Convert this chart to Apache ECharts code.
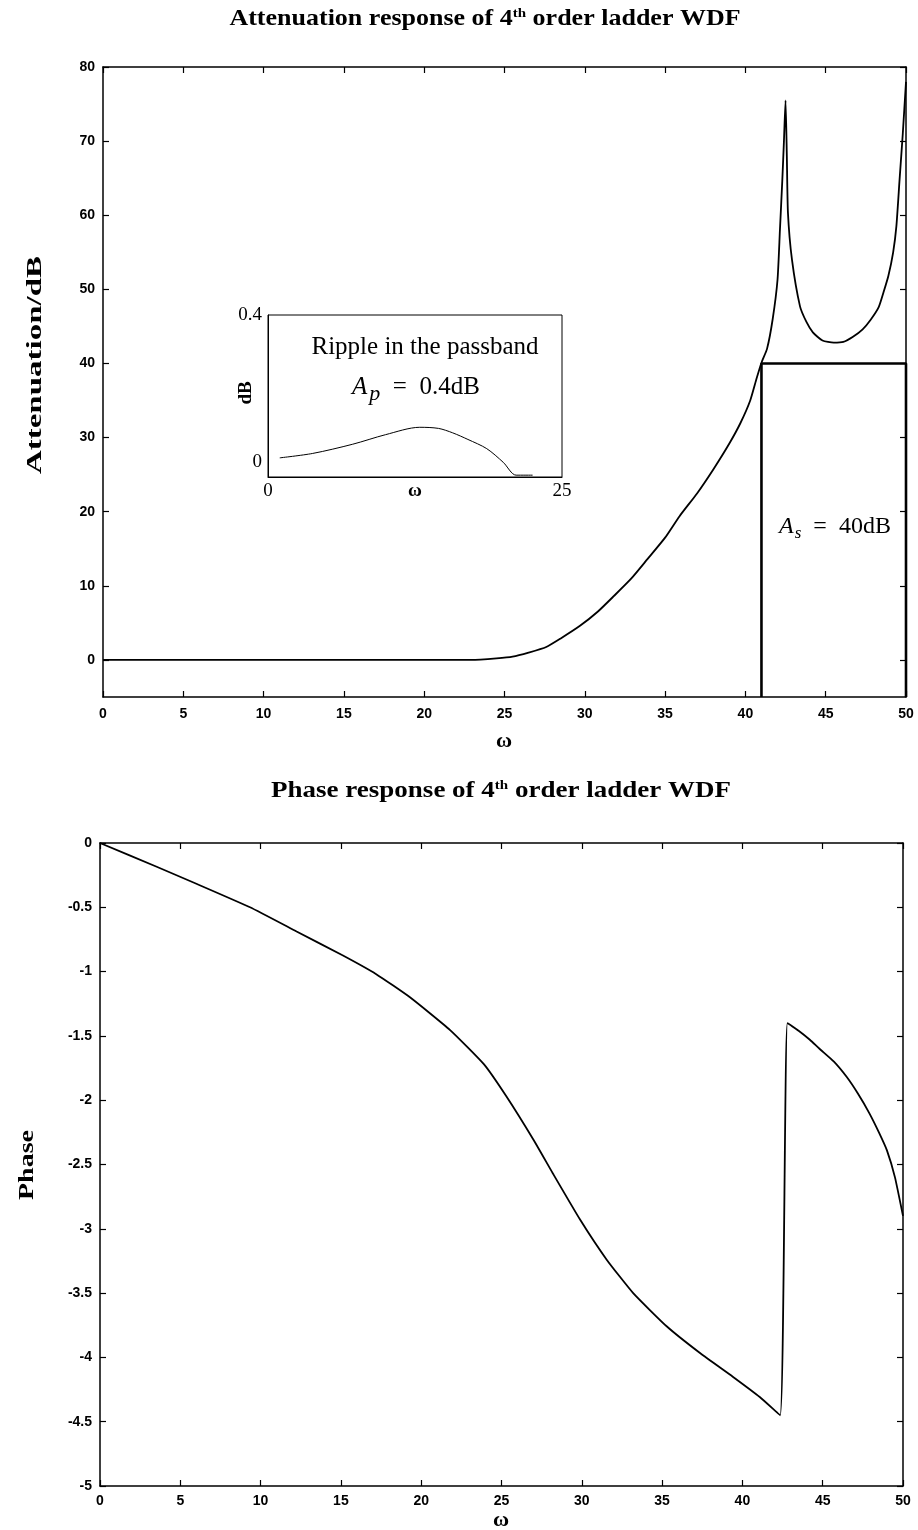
<!DOCTYPE html>
<html><head><meta charset="utf-8">
<script src="https://cdn.jsdelivr.net/npm/echarts@6/dist/echarts.min.js"></script>
<style>html,body{margin:0;padding:0;background:#fff}#c{width:918px;height:1530px}</style>
</head><body><div id="c"></div>
<script>
// ---- data ----
const xTicks = [0,5,10,15,20,25,30,35,40,45,50];
const attYTicks = [0,10,20,30,40,50,60,70,80];
const attOmega = [0,5,10,15,20,22,23.5,24.5,25.5,26.5,27.6,28.5,29.7,30.8,31.8,32.9,33.9,35,35.9,37,38,39,39.7,40.3,40.7,41,41.35,41.7,42,42.15,42.3,42.4,42.5,42.58,42.65,42.9,43.4,43.8,44.2,44.8,45.5,46.1,46.7,47.3,47.8,48.3,48.6,48.9,49.2,49.4,49.6,49.8,50];
const attValues = [0,0,0,0,0,0,0.05,0.2,0.45,1.0,1.75,2.9,4.6,6.5,8.6,11,13.6,16.5,19.4,22.5,25.7,29.2,32,35,38,40.1,42,46,51.3,58,64.8,70,75.5,68,60.3,54,47.7,45.6,44.2,43.1,42.8,42.9,43.6,44.6,45.9,47.6,49.6,51.8,55,58.5,64.8,71,78];
const stopbandEdge = 41;
const stopbandAtten = 40;
const phaseOmega = [0,3.53,6,9.34,12.24,15.1,17.2,19.3,21.8,23.9,25.3,27,28.2,29.9,31.55,33.2,35.3,37.4,39.4,41.1,42.35,42.8,43.5,44.2,44.8,45.7,46.5,47.2,47.9,48.5,49,49.5,50];
const phaseValues = [0,-0.185,-0.317,-0.5,-0.688,-0.873,-1.02,-1.2,-1.455,-1.72,-1.97,-2.31,-2.57,-2.93,-3.24,-3.5,-3.76,-3.97,-4.15,-4.31,-4.45,-1.40,-1.46,-1.53,-1.6,-1.7,-1.82,-1.95,-2.1,-2.25,-2.39,-2.6,-2.9];
const rippleOmega = [1,3.8,7.2,10,12.9,14.5,15.7,17,18.6,20,21.1,22.5];
const rippleValues = [0.012,0.024,0.049,0.075,0.095,0.092,0.08,0.062,0.037,0,-0.035,-0.035];
const rippleXTicks = [0,12.5,25];
const rippleYTicks = [0,0.4];

const zip = (a,b)=>a.map((v,i)=>[v,b[i]]);
const BLK = '#000';
const tickFont = {color:BLK, fontFamily:'Liberation Sans', fontWeight:'bold', fontSize:14};
function mainX(grid, pos, labels, margin){
  return {gridIndex:grid, type:'value', position:pos, min:0, max:50, interval:5,
    axisLine:{show:true, onZero:false, lineStyle:{color:BLK,width:1.5}},
    axisTick:{show:true, inside:true, length:6, lineStyle:{color:BLK,width:1.2}},
    axisLabel:Object.assign({show:labels, margin:margin}, tickFont),
    splitLine:{show:false}};
}
function yAx(grid, pos, labels, extra){
  return Object.assign({gridIndex:grid, type:'value', position:pos,
    axisLine:{show:true, onZero:false, lineStyle:{color:BLK,width:1.5}},
    axisTick:{show:true, inside:true, length:6, lineStyle:{color:BLK,width:1.2}},
    axisLabel:Object.assign({show:labels, margin:8}, tickFont),
    splitLine:{show:false}}, extra);
}
const attY = {min:-5, max:80};
const attTickOpts = (labels)=>({axisTick:{show:true,inside:true,length:6,customValues:attYTicks,lineStyle:{color:BLK,width:1.2}},
  axisLabel:Object.assign({show:labels, margin:8, customValues:attYTicks}, tickFont)});

const SERIF = '"Liberation Serif"';
const option = {
  animation:false,
  backgroundColor:'#fff',
  grid:[
    {left:103, top:67, width:803, height:630},
    {left:100, top:843, width:803, height:643},
    {left:268, top:315, width:294, height:162, show:true, borderColor:BLK, borderWidth:1, backgroundColor:'#fff', z:5}
  ],
  xAxis:[
    mainX(0,'bottom',true,10),
    mainX(0,'top',false,8),
    mainX(1,'bottom',true,8),
    mainX(1,'top',false,8),
    {gridIndex:2, type:'value', min:0, max:25, position:'bottom', z:6,
      axisLine:{show:true,onZero:false,lineStyle:{color:BLK,width:1}},
      axisTick:{show:false},
      splitLine:{show:false},
      axisLabel:{show:true, customValues:rippleXTicks, margin:5, color:BLK, fontFamily:'Liberation Serif', fontSize:19,
        formatter:v=>Math.abs(v-12.5)<1e-6?'{b|ω}':String(v), rich:{b:{fontFamily:'Liberation Serif', fontWeight:'bold', fontSize:19, color:BLK}}}}
  ],
  yAxis:[
    Object.assign(yAx(0,'left',true,attY), attTickOpts(true)),
    Object.assign(yAx(0,'right',false,attY), attTickOpts(false)),
    yAx(1,'left',true,{min:-5,max:0,interval:0.5}),
    yAx(1,'right',false,{min:-5,max:0,interval:0.5}),
    {gridIndex:2, type:'value', min:-0.04, max:0.4, position:'left', z:6,
      axisLine:{show:true,onZero:false,lineStyle:{color:BLK,width:1}},
      axisTick:{show:false},
      splitLine:{show:false},
      axisLabel:{show:true, customValues:rippleYTicks, margin:6, color:BLK, fontFamily:'Liberation Serif', fontSize:19}}
  ],
  series:[
    {type:'line', xAxisIndex:0, yAxisIndex:0, data:zip(attOmega,attValues), showSymbol:false, smooth:0.2,
      lineStyle:{color:BLK,width:1.8}, clip:true, z:3},
    {type:'line', xAxisIndex:0, yAxisIndex:0, showSymbol:false,
      data:[[stopbandEdge,-5],[stopbandEdge,stopbandAtten],[50,stopbandAtten],[50,-5]],
      lineStyle:{color:BLK,width:2.6}, z:4},
    {type:'line', xAxisIndex:2, yAxisIndex:2, data:zip(phaseOmega,phaseValues), showSymbol:false, smooth:0.15,
      lineStyle:{color:BLK,width:1.8}},
    {type:'line', xAxisIndex:4, yAxisIndex:4, data:zip(rippleOmega,rippleValues), showSymbol:false, smooth:0.3,
      lineStyle:{color:BLK,width:1}, z:7}
  ],
  graphic:[
    {type:'text', x:485, y:19, scaleY:0.85, z:10, style:{text:'Attenuation response of 4{sup|th} order ladder WDF', align:'center', verticalAlign:'middle',
      font:'bold 26px '+SERIF, fill:BLK,
      rich:{sup:{font:'bold 15px '+SERIF, fill:BLK, verticalAlign:'top', padding:[0,0,12,0]}}}},
    {type:'text', x:501, y:791, scaleY:0.85, z:10, style:{text:'Phase response of 4{sup|th} order ladder WDF', align:'center', verticalAlign:'middle',
      font:'bold 27px '+SERIF, fill:BLK,
      rich:{sup:{font:'bold 15px '+SERIF, fill:BLK, verticalAlign:'top', padding:[0,0,12,0]}}}},
    {type:'text', x:504, y:741, z:10, style:{text:'ω', align:'center', verticalAlign:'middle', font:'bold 22px '+SERIF, fill:BLK}},
    {type:'text', x:501, y:1520, z:10, style:{text:'ω', align:'center', verticalAlign:'middle', font:'bold 22px '+SERIF, fill:BLK}},
    {type:'text', x:35, y:365, rotation:Math.PI/2, scaleY:0.65, z:10, style:{text:'Attenuation/dB', align:'center', verticalAlign:'middle', font:'bold 33px '+SERIF, fill:BLK}},
    {type:'text', x:28, y:1165, rotation:Math.PI/2, scaleY:0.72, z:10, style:{text:'Phase', align:'center', verticalAlign:'middle', font:'bold 28px '+SERIF, fill:BLK}},
    {type:'text', x:246, y:393, rotation:Math.PI/2, z:10, style:{text:'dB', align:'center', verticalAlign:'middle', font:'bold 19px '+SERIF, fill:BLK}},
    {type:'text', x:425, y:347, z:10, style:{text:'Ripple in the passband', align:'center', verticalAlign:'middle', font:'25px '+SERIF, fill:BLK}},
    {type:'text', x:416, y:387, z:10, style:{text:'{it|A}{sub|p}  =  0.4dB', align:'center', verticalAlign:'middle', font:'25px '+SERIF, fill:BLK,
      rich:{it:{font:'italic 25px '+SERIF, fill:BLK}, sub:{font:'italic 22px '+SERIF, fill:BLK, verticalAlign:'bottom', padding:[14,0,0,2]}}}},
    {type:'text', x:835, y:527, z:10, style:{text:'{it|A}{sub|s}  =  40dB', align:'center', verticalAlign:'middle', font:'24px '+SERIF, fill:BLK,
      rich:{it:{font:'italic 24px '+SERIF, fill:BLK}, sub:{font:'italic 17px '+SERIF, fill:BLK, verticalAlign:'bottom', padding:[14,0,0,1]}}}}
  ]
};
const chart = echarts.init(document.getElementById('c'), null, {renderer:'canvas'});
chart.setOption(option);
</script>
</body></html>
